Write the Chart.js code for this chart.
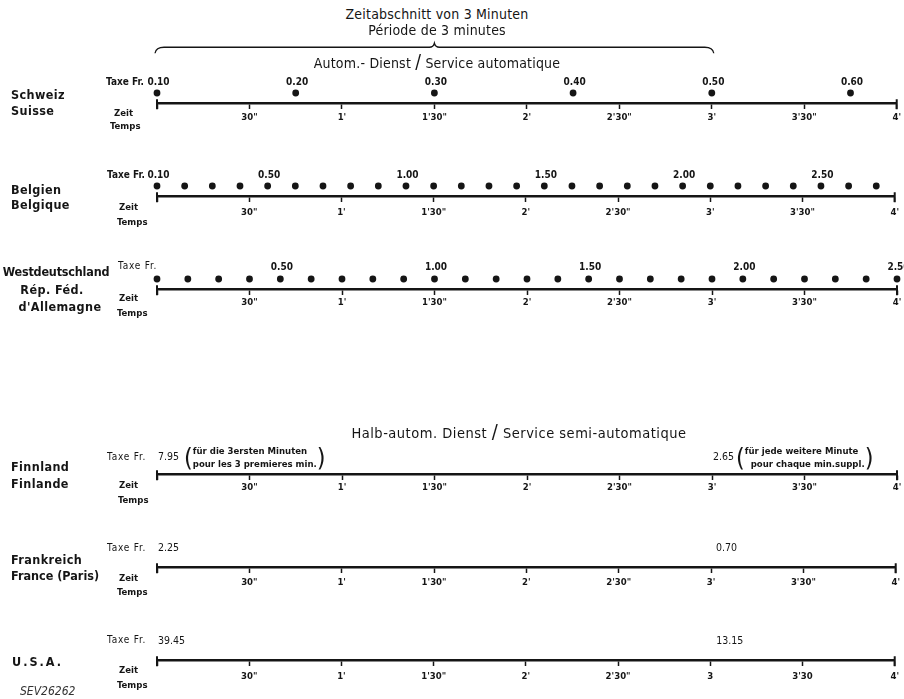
<!DOCTYPE html>
<html>
<head>
<meta charset="utf-8">
<script src="https://cdn.jsdelivr.net/npm/chart.js@4/dist/chart.umd.min.js"></script>
<style>
  body { margin: 0; background: #fff; }
  #page { position: relative; width: 904px; height: 699px; overflow: hidden; background: #fff;
          color: #151515; font-family: 'DejaVu Sans Condensed', 'DejaVu Sans', sans-serif; }
  canvas { position: absolute; left: 0; }
  .t { position: absolute; white-space: nowrap; line-height: 1; transform: translateY(-50%); }
  .c { transform: translate(-50%, -50%); }
  .land { font-weight: bold; font-size: 12.5px; letter-spacing: 0.4px; }
  .titel { font-size: 14px; letter-spacing: 0.2px; }
  .zt { font-weight: bold; font-size: 9.5px; }
  .tx { font-size: 10px; letter-spacing: 0.8px; }
  .note { display: flex; align-items: center; font-weight: bold; font-size: 9.5px; }
  .note .p { font-size: 25px; font-weight: normal; line-height: 1; }
  .note .l { line-height: 1.3; }
</style>
</head>
<body>
<div id="page">
  <canvas id="row-ch" width="904" height="92"></canvas>
  <canvas id="row-be" width="904" height="66"></canvas>
  <canvas id="row-de" width="904" height="66"></canvas>
  <canvas id="row-fi" width="904" height="66"></canvas>
  <canvas id="row-fr" width="904" height="66"></canvas>
  <canvas id="row-us" width="904" height="66"></canvas>

  <div class="t c titel" style="left:437px;top:14px">Zeitabschnitt von 3 Minuten</div>
  <div class="t c titel" style="left:437px;top:30px">Période de 3 minutes</div>
  <div class="t c titel" style="left:437px;top:61px">Autom.- Dienst <span style="font-size:19px">/</span> Service automatique</div>

  <div class="t land" style="left:11px;top:95px">Schweiz</div>
  <div class="t land" style="left:11px;top:111px">Suisse</div>
  <div class="t zt" style="right:760px;top:82px;font-size:10px">Taxe Fr.</div>
  <div class="t zt" style="left:114px;top:113px">Zeit</div>
  <div class="t zt" style="left:110px;top:126px">Temps</div>

  <div class="t land" style="left:11px;top:190px">Belgien</div>
  <div class="t land" style="left:11px;top:205px">Belgique</div>
  <div class="t zt" style="right:759px;top:175px;font-size:10px">Taxe Fr.</div>
  <div class="t zt" style="left:119px;top:207px">Zeit</div>
  <div class="t zt" style="left:117px;top:222px">Temps</div>

  <div class="t c land" style="left:56px;top:272px;letter-spacing:-0.2px">Westdeutschland</div>
  <div class="t c land" style="left:52px;top:290px">Rép. Féd.</div>
  <div class="t c land" style="left:60px;top:307px">d'Allemagne</div>
  <div class="t tx" style="left:118px;top:266px">Taxe Fr.</div>
  <div class="t zt" style="left:119px;top:298px">Zeit</div>
  <div class="t zt" style="left:117px;top:313px">Temps</div>

  <div class="t c titel" style="left:519px;top:431px;font-size:14.5px;letter-spacing:0.5px">Halb-autom. Dienst <span style="font-size:20px">/</span> Service semi-automatique</div>

  <div class="t land" style="left:11px;top:467px">Finnland</div>
  <div class="t land" style="left:11px;top:484px">Finlande</div>
  <div class="t tx" style="left:107px;top:457px">Taxe Fr.</div>
  <div class="t note" style="left:184px;top:457px"><span class="p">(</span><span class="l">für die 3ersten Minuten<br>pour les 3 premieres min.</span><span class="p">)</span></div>
  <div class="t note" style="left:736px;top:457px"><span class="p">(</span><span class="l">für jede weitere Minute<br>&nbsp;&nbsp;pour chaque min.suppl.</span><span class="p">)</span></div>
  <div class="t zt" style="left:119px;top:485px">Zeit</div>
  <div class="t zt" style="left:118px;top:500px">Temps</div>

  <div class="t land" style="left:11px;top:560px">Frankreich</div>
  <div class="t land" style="left:11px;top:576px;letter-spacing:0">France (Paris)</div>
  <div class="t tx" style="left:107px;top:548px">Taxe Fr.</div>
  <div class="t zt" style="left:119px;top:578px">Zeit</div>
  <div class="t zt" style="left:117px;top:592px">Temps</div>

  <div class="t land" style="left:12px;top:662px;letter-spacing:2px">U.S.A.</div>
  <div class="t tx" style="left:107px;top:640px">Taxe Fr.</div>
  <div class="t zt" style="left:119px;top:670px">Zeit</div>
  <div class="t zt" style="left:117px;top:685px">Temps</div>
  <div class="t" style="left:20px;top:691px;font-size:12px;font-style:italic;color:#333">SEV26262</div>
</div>

<script>
/* Gesprächstaxen im Vergleich – Zeitachse 0 … 4 Minuten */

// Zeitachse (Sekunden) und Beschriftung
const TICK_SEC    = [0, 30, 60, 90, 120, 150, 180, 210, 240];
const TICK_LABELS = ["", "30\"", "1'", "1'30\"", "2'", "2'30\"", "3'", "3'30\"", "4'"];
const TICK_LABELS_USA = ["", "30\"", "1'", "1'30\"", "2'", "2'30\"", "3", "3'30", "4'"];

// Klammer "Zeitabschnitt von 3 Minuten"
const BRACE_SEC = [0, 180];

// Schweiz – Taximpuls alle 45 s
const CH_PULSE    = [0, 45, 90, 135, 180, 225];
const CH_TAXE_SEC = [0, 45, 90, 135, 180, 225];
const CH_TAXE     = ["0.10", "0.20", "0.30", "0.40", "0.50", "0.60"];

// Belgien – alle 9 s
const BE_PULSE    = [0, 9, 18, 27, 36, 45, 54, 63, 72, 81, 90, 99, 108, 117, 126, 135,
                     144, 153, 162, 171, 180, 189, 198, 207, 216, 225, 234];
const BE_TAXE_SEC = [0, 36, 81, 126, 171, 216];
const BE_TAXE     = ["0.10", "0.50", "1.00", "1.50", "2.00", "2.50"];

// Westdeutschland – alle 10 s
const DE_PULSE    = [0, 10, 20, 30, 40, 50, 60, 70, 80, 90, 100, 110, 120, 130, 140, 150,
                     160, 170, 180, 190, 200, 210, 220, 230, 240];
const DE_TAXE_SEC = [40, 90, 140, 190, 240];
const DE_TAXE     = ["0.50", "1.00", "1.50", "2.00", "2.50"];

// Halbautomatischer Dienst
const FI_TAXE_SEC = [0, 180];
const FI_TAXE     = ["7.95", "2.65"];
const FR_TAXE_SEC = [0, 180];
const FR_TAXE     = ["2.25", "0.70"];
const US_TAXE_SEC = [0, 180];
const US_TAXE     = ["39.45", "13.15"];

const INK  = "#151515";
const FONT = "'DejaVu Sans Condensed', 'DejaVu Sans', sans-serif";

// ── PLUGINS ───────────────────────────────────

// senkrechte Striche an beiden Enden der Achse
const endStriche = {
  id: "endStriche",
  afterDraw(chart) {
    const x = chart.scales.x, ctx = chart.ctx;
    const y = x.top + 1.25;
    ctx.save();
    ctx.strokeStyle = INK;
    ctx.lineWidth = 2;
    [x.min, x.max].forEach(v => {
      const px = x.getPixelForValue(v);
      ctx.beginPath();
      ctx.moveTo(px, y - 5);
      ctx.lineTo(px, y + 5);
      ctx.stroke();
    });
    ctx.restore();
  }
};

function taxeLabels(secs, labels, cfg) {
  return {
    id: "taxe",
    afterDatasetsDraw(chart) {
      const x = chart.scales.x, ctx = chart.ctx;
      const y = x.top + 1.25 - cfg.abstand;
      ctx.save();
      ctx.fillStyle = INK;
      ctx.font = cfg.font;
      ctx.textAlign = cfg.align;
      ctx.textBaseline = "middle";
      secs.forEach((s, i) => {
        const dx = cfg.dx ? cfg.dx[i] : 1.5;
        ctx.fillText(labels[i], x.getPixelForValue(s) + dx, y);
      });
      ctx.restore();
    }
  };
}

const klammer = {
  id: "klammer",
  afterDraw(chart) {
    const x = chart.scales.x, ctx = chart.ctx;
    const a = x.getPixelForValue(BRACE_SEC[0]);
    const b = x.getPixelForValue(BRACE_SEC[1]);
    const m = (a + b) / 2;
    const y = x.top + 1.25 - 57;
    ctx.save();
    ctx.strokeStyle = INK;
    ctx.lineWidth = 1.3;
    ctx.beginPath();
    ctx.moveTo(a - 2, y + 6);
    ctx.quadraticCurveTo(a - 1, y, a + 7, y);
    ctx.lineTo(m - 5, y);
    ctx.quadraticCurveTo(m - 1, y, m, y - 4);
    ctx.quadraticCurveTo(m + 1, y, m + 5, y);
    ctx.lineTo(b - 7, y);
    ctx.quadraticCurveTo(b + 1, y, b + 2, y + 6);
    ctx.stroke();
    ctx.restore();
  }
};

// ── ZEILE ─────────────────────────────────────

function zeile(id, cfg) {
  const canvas = document.getElementById(id);
  const oben = cfg.oben || 40;                  // Abstand Canvas-Oberkante bis Achse
  canvas.style.top = Math.round(cfg.achseY - oben - 1.25) + "px";

  const plugins = [endStriche, taxeLabels(cfg.taxeSec, cfg.taxe, cfg)];
  if (cfg.klammer) plugins.push(klammer);

  const labels = cfg.tickLabels || TICK_LABELS;

  return new Chart(canvas, {
    type: "scatter",
    data: {
      datasets: [{
        data: (cfg.pulse || []).map(s => ({ x: s, y: 0 })),
        pointRadius: 3.4,
        pointBackgroundColor: INK,
        pointBorderWidth: 0,
        clip: false,
      }]
    },
    options: {
      responsive: false,
      animation: false,
      events: [],
      layout: { padding: { left: 157, right: 7, top: oben - 20, bottom: 0 } },
      plugins: { legend: { display: false }, tooltip: { enabled: false } },
      scales: {
        x: {
          type: "linear",
          min: 0,
          max: 240,
          afterBuildTicks: s => { s.ticks = TICK_SEC.map(v => ({ value: v })); },
          afterFit: s => { s.height = 26; },
          ticks: {
            autoSkip: false,
            maxRotation: 0,
            padding: cfg.pad,
            color: INK,
            font: { family: FONT, size: 9.5, weight: "bold" },
            callback: v => labels[TICK_SEC.indexOf(v)],
          },
          grid: { drawOnChartArea: false, tickLength: 6, tickWidth: 1.5, tickColor: INK },
          border: { display: true, width: 2.5, color: INK },
        },
        y: { display: false, min: -1, max: 1 },
      }
    },
    plugins
  });
}

const FONT_AUTO = "bold 10px " + FONT;
const FONT_HALB = "10.5px " + FONT;

zeile("row-ch", { achseY: 104, oben: 66, pad: 3, pulse: CH_PULSE, taxeSec: CH_TAXE_SEC, taxe: CH_TAXE,
                  abstand: 22, align: "center", font: FONT_AUTO, klammer: true });
zeile("row-be", { achseY: 197, pad: 5, pulse: BE_PULSE, taxeSec: BE_TAXE_SEC, taxe: BE_TAXE,
                  abstand: 22, align: "center", font: FONT_AUTO });
zeile("row-de", { achseY: 290, pad: 2, pulse: DE_PULSE, taxeSec: DE_TAXE_SEC, taxe: DE_TAXE,
                  abstand: 23, align: "center", font: FONT_AUTO });
zeile("row-fi", { achseY: 475, pad: 2, taxeSec: FI_TAXE_SEC, taxe: FI_TAXE, dx: [1, 1],
                  abstand: 18, align: "left", font: FONT_HALB });
zeile("row-fr", { achseY: 568, pad: 4, taxeSec: FR_TAXE_SEC, taxe: FR_TAXE, dx: [1, 5],
                  abstand: 20, align: "left", font: FONT_HALB });
zeile("row-us", { achseY: 661, pad: 5, taxeSec: US_TAXE_SEC, taxe: US_TAXE, tickLabels: TICK_LABELS_USA, dx: [1, 6],
                  abstand: 20, align: "left", font: FONT_HALB });
</script>
</body>
</html>
